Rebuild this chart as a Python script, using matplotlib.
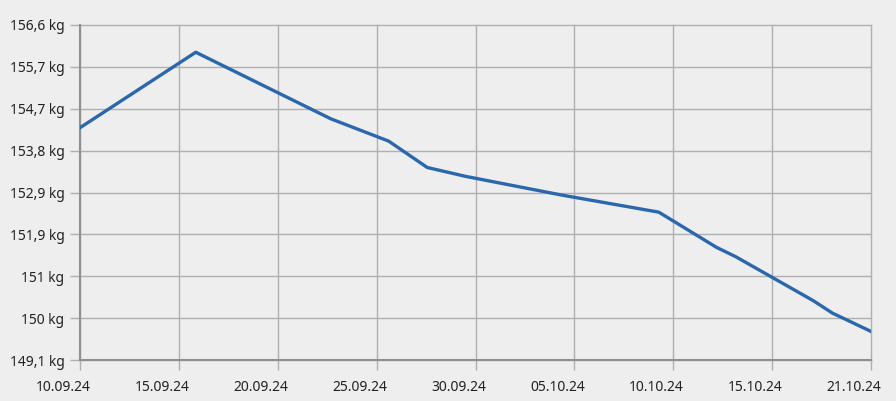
import matplotlib
matplotlib.use('Agg')
import matplotlib.pyplot as plt
import matplotlib.dates as mdates
import matplotlib.transforms as mtransforms
import numpy as np
from datetime import datetime

plt.rcParams['font.family'] = ['Noto Sans', 'DejaVu Sans']

# weight measurements
dates = ['10.09.24', '16.09.24', '23.09.24', '26.09.24', '28.09.24', '30.09.24',
         '05.10.24', '10.10.24', '13.10.24', '14.10.24', '18.10.24', '19.10.24', '21.10.24']
weights = [154.30, 155.99, 154.50, 154.00, 153.41, 153.21,
           152.79, 152.41, 151.62, 151.41, 150.43, 150.15, 149.74]

x_labels = ['10.09.24', '15.09.24', '20.09.24', '25.09.24', '30.09.24',
            '05.10.24', '10.10.24', '15.10.24', '21.10.24']
y_labels = ['149,1 kg', '150 kg', '151 kg', '151,9 kg', '152,9 kg',
            '153,8 kg', '154,7 kg', '155,7 kg', '156,6 kg']
y_min, y_max = 149.1, 156.6

x = mdates.date2num([datetime.strptime(d, '%d.%m.%y') for d in dates])

bg = '#eeeeee'
fig = plt.figure(figsize=(8.96, 4.01), dpi=100, facecolor=bg)
ax = fig.add_axes([80 / 896, 41 / 401, 791 / 896, 335 / 401])
ax.set_facecolor(bg)

ax.plot(x, weights, color='#2b67ad', lw=2.4, solid_joinstyle='round', zorder=3)

ax.set_xlim(x[0], x[-1])
ax.set_ylim(y_min, y_max)
ax.set_xticks(np.linspace(x[0], x[-1], len(x_labels)))
ax.set_xticklabels(x_labels)
ax.set_yticks(np.linspace(y_min, y_max, len(y_labels)))
ax.set_yticklabels(y_labels)

ax.grid(True, color='#b0b0b0', lw=1)
for gl in ax.get_xgridlines() + ax.get_ygridlines():
    gl.set_clip_on(False)
ax.tick_params(axis='both', colors='#b0b0b0', length=7.2, width=1,
               labelcolor='#222222', labelsize=10)
ax.tick_params(axis='x', pad=7)
ax.tick_params(axis='y', pad=4)

# date labels sit a bit left of their ticks
shift = mtransforms.ScaledTranslation(-17 / 100, 0, fig.dpi_scale_trans)
for lbl in ax.get_xticklabels():
    lbl.set_transform(lbl.get_transform() + shift)

for s in ['top', 'right']:
    ax.spines[s].set_visible(False)
for s in ['left', 'bottom']:
    ax.spines[s].set_color('#909090')
    ax.spines[s].set_linewidth(1.5)
ax.set_axisbelow(True)

fig.savefig('out.png', dpi=100, facecolor=bg)
